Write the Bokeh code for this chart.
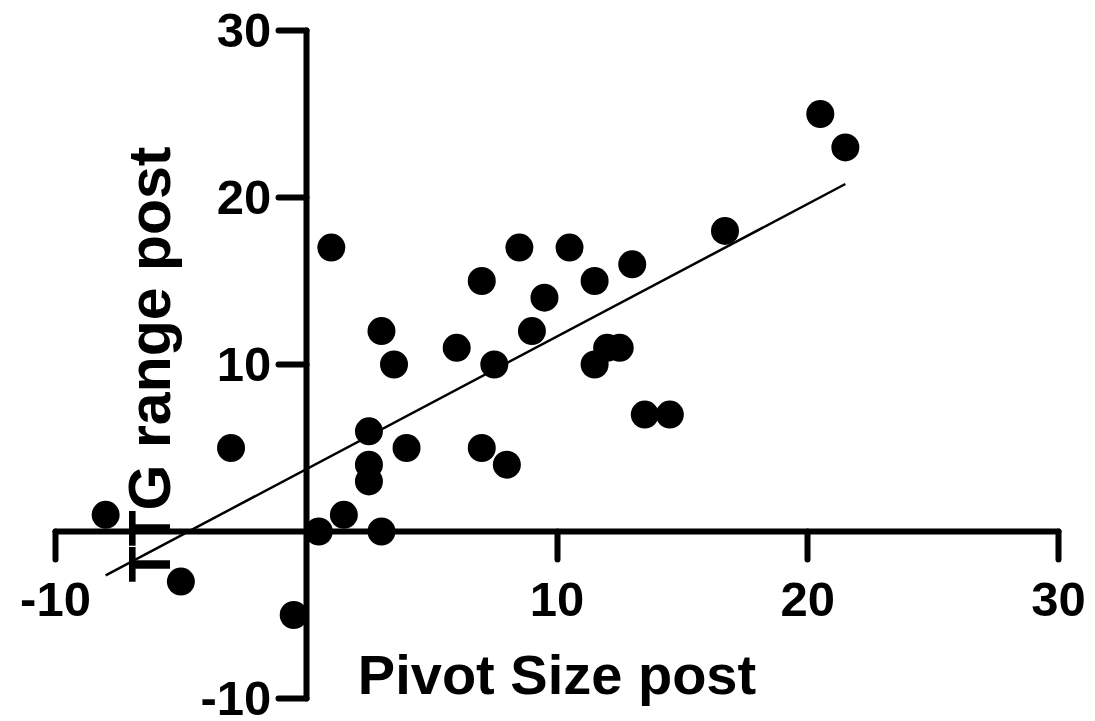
import numpy as np
from bokeh.plotting import figure
from bokeh.models import Range1d, FixedTicker
from bokeh.embed import file_html
from bokeh.resources import INLINE

# Data
pivot_size_post = [-8, -5, -3, -0.5, 1, 0.5, 1.5, 2.5, 2.5, 2.5, 3, 3, 3.5, 4, 6, 7, 7.5, 7,
                   8, 8.5, 9, 9.5, 10.5, 11.5, 11.5, 12, 12.5, 13, 13.5, 14.5, 16.7, 20.5, 21.5]
ttg_range_post = [1, -3, 5, -5, 17, 0, 1, 3, 4, 6, 0, 12, 10, 5, 11, 15, 10, 5,
                  4, 17, 12, 14, 17, 15, 10, 11, 11, 16, 7, 7, 18, 25, 23]
x_ticks = [-10, 10, 20, 30]
y_ticks = [-10, 10, 20, 30]
x_tick_labels = ["-10", "10", "20", "30"]
y_tick_labels = ["-10", "10", "20", "30"]
x_title = "Pivot Size post"
y_title = "TTG range post"

FONT = "Liberation Sans"

# layout: axis extents (-10..30) should sit at these pixel positions
W, H = 1095, 721
AX_LEFT, AX_RIGHT = 55, 1058      # pixels of x = -10 and x = 30
AX_TOP, AX_BOTTOM = 30, 698       # pixels of y = 30 and y = -10
lo, hi = -10, 30
sx = (AX_RIGHT - AX_LEFT) / (hi - lo)
sy = (AX_BOTTOM - AX_TOP) / (hi - lo)
x_range = Range1d(lo - AX_LEFT / sx, hi + (W - AX_RIGHT) / sx)
y_range = Range1d(lo - (H - AX_BOTTOM) / sy, hi + AX_TOP / sy)

p = figure(width=W, height=H, output_backend="svg", toolbar_location=None,
           x_range=x_range, y_range=y_range, min_border=0)
p.outline_line_color = None
p.xgrid.visible = False
p.ygrid.visible = False
p.background_fill_color = "white"
p.border_fill_color = "white"

# regression line
xs = np.array(pivot_size_post, dtype=float)
ys = np.array(ttg_range_post, dtype=float)
slope, intercept = np.polyfit(xs, ys, 1)
lx = np.array([xs.min(), xs.max()])
p.line(lx, slope * lx + intercept, line_color="black", line_width=2.5)

p.scatter(pivot_size_post, ttg_range_post, size=28, fill_color="black", line_color="black",
          line_width=0)

for ax, ticks, labels, title in ((p.xaxis[0], x_ticks, x_tick_labels, x_title),
                                 (p.yaxis[0], y_ticks, y_tick_labels, y_title)):
    ax.fixed_location = 0
    ax.bounds = (lo, hi)
    ax.ticker = FixedTicker(ticks=ticks)
    ax.major_label_overrides = {t: l for t, l in zip(ticks, labels)}
    ax.minor_tick_line_color = None
    ax.axis_line_width = 6
    ax.axis_line_cap = "round"
    ax.major_tick_line_width = 6
    ax.major_tick_line_cap = "round"
    ax.major_tick_in = 0
    ax.major_tick_out = 28
    ax.major_label_text_font = FONT
    ax.major_label_text_font_style = "bold"
    ax.major_label_text_font_size = "49px"
    ax.major_label_text_color = "black"
    ax.axis_label = title
    ax.axis_label_text_font = FONT
    ax.axis_label_text_font_style = "bold"
    ax.axis_label_text_color = "black"

p.xaxis[0].axis_label_text_font_size = "56px"
p.yaxis[0].axis_label_text_font_size = "59px"
p.xaxis[0].major_label_standoff = 23
p.yaxis[0].major_label_standoff = 7
p.xaxis[0].axis_label_standoff = 24
p.yaxis[0].axis_label_standoff = 15

open("out.html", "w").write(file_html(p, INLINE))
